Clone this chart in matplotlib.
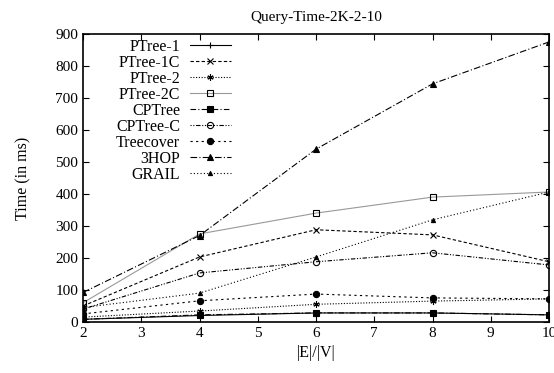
import numpy as np
import matplotlib.pyplot as plt

plt.rcParams['font.family'] = ['Liberation Serif', 'DejaVu Serif']

ratio = [2, 4, 6, 8, 10]

ptree_1 = [8, 20, 28, 28, 22]
ptree_1c = [50, 203, 288, 272, 188]
ptree_2 = [15, 34, 55, 65, 72]
ptree_2c = [60, 275, 340, 390, 406]
cptree = [8, 22, 28, 28, 22]
cptree_c = [40, 153, 188, 216, 178]
treecover = [25, 66, 87, 75, 72]
hop3 = [92, 270, 540, 744, 875]
grail = [45, 90, 203, 319, 406]

series = [
    ('PTree-1', ptree_1, '-', '+', 'black', 'none'),
    ('PTree-1C', ptree_1c, (0, (3, 2)), 'x', 'black', 'none'),
    ('PTree-2', ptree_2, (0, (1, 1.5)), (6, 2, 0), 'black', 'none'),
    ('PTree-2C', ptree_2c, '-', 's', '#999999', 'none'),
    ('CPTree', cptree, (0, (5, 2, 1, 2)), 's', 'black', 'black'),
    ('CPTree-C', cptree_c, (0, (1, 1.5, 1, 1.5, 4, 1.5)), 'o', 'black', 'none'),
    ('Treecover', treecover, (0, (2, 3)), 'o', 'black', 'black'),
    ('3HOP', hop3, (0, (6, 2, 1, 2)), '^', 'black', 'black'),
    ('GRAIL', grail, (0, (1, 2)), '^', 'black', 'black'),
]

fig = plt.figure(figsize=(5.54, 3.73), dpi=100)
ax = fig.add_axes([0.15, 0.137, 0.841, 0.772])

for name, vals, ls, mk, col, fc in series:
    ms = 3 if name == 'GRAIL' else 4.5
    ax.plot(ratio, vals, linestyle=ls, marker=mk, color=col, lw=0.8,
            markersize=ms, markerfacecolor=fc, markeredgecolor='black',
            markeredgewidth=0.8, label=name)

ax.set_xlim(2, 10)
ax.set_ylim(0, 900)
ax.set_xticks(np.arange(2, 11, 1))
ax.set_yticks(np.arange(0, 901, 100))
ax.tick_params(direction='in', top=True, right=True, labelsize=11, length=4)
for s in ax.spines.values():
    s.set_linewidth(1.2)

ax.set_title('Query-Time-2K-2-10', fontsize=11, pad=9)
ax.set_xlabel('|E|/|V|', fontsize=11.5)
ax.set_ylabel('Time (in ms)', fontsize=11.5, labelpad=17)

leg = ax.legend(loc='upper left', markerfirst=False, frameon=False,
                fontsize=11.5, handlelength=2.6, labelspacing=0.0,
                handletextpad=0.6, borderaxespad=0.0, borderpad=0.3,
                bbox_to_anchor=(0.06, 1.0))

plt.savefig('out.png')
